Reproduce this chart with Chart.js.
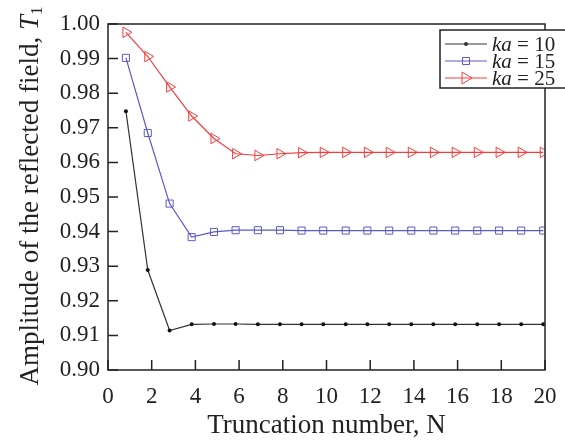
<!DOCTYPE html>
<html>
<head>
<meta charset="utf-8">
<script src="https://cdn.jsdelivr.net/npm/chart.js@4.4.1/dist/chart.umd.min.js"></script>
<style>
  html, body { margin: 0; padding: 0; background: #fff; }
  #wrap { width: 565px; height: 445px; }
</style>
</head>
<body>
<div id="wrap"><canvas id="refChart" width="565" height="445"></canvas></div>
<script>
// truncation number positions
var nValues = [0.82, 1.82, 2.82, 3.83, 4.85, 5.84, 6.86, 7.87, 8.86, 9.85,
               10.88, 11.87, 12.87, 13.88, 14.89, 15.89, 16.9, 17.9, 18.91, 19.92];
var ka10 = [0.9748, 0.9289, 0.9114, 0.9132, 0.9133, 0.9133, 0.9132, 0.9132, 0.9132, 0.9132,
            0.9132, 0.9132, 0.9132, 0.9132, 0.9132, 0.9132, 0.9132, 0.9132, 0.9132, 0.9132];
var ka15 = [0.9902, 0.9685, 0.9481, 0.9384, 0.9399, 0.9404, 0.9404, 0.9404, 0.9403, 0.9403,
            0.9403, 0.9403, 0.9403, 0.9403, 0.9403, 0.9403, 0.9403, 0.9403, 0.9403, 0.9403];
var ka25 = [0.9976, 0.9906, 0.9818, 0.9734, 0.9669, 0.9625, 0.9620, 0.9625, 0.9628, 0.9629,
            0.9629, 0.9629, 0.9629, 0.9629, 0.9629, 0.9629, 0.9629, 0.9629, 0.9629, 0.9629];
var seriesLabels = ['10', '15', '25'];

var serif = '"Liberation Serif", "DejaVu Serif", serif';

function pts(arr) {
    return arr.map(function (v, i) { return { x: nValues[i], y: v }; });
}

// inward ticks + frame
var framePlugin = {
    id: 'frame',
    afterDraw: function (chart) {
        var ctx = chart.ctx, a = chart.chartArea;
        var xs = chart.scales.x, ys = chart.scales.y;
        ctx.save();
        ctx.strokeStyle = '#222';
        ctx.lineWidth = 1.5;
        ctx.strokeRect(a.left, a.top, a.right - a.left, a.bottom - a.top);
        ctx.beginPath();
        ys.ticks.forEach(function (t) {
            var y = ys.getPixelForValue(t.value);
            ctx.moveTo(a.left, y);
            ctx.lineTo(a.left + 10, y);
        });
        xs.ticks.forEach(function (t) {
            var x = xs.getPixelForValue(t.value);
            ctx.moveTo(x, a.bottom);
            ctx.lineTo(x, a.bottom - 10);
        });
        ctx.stroke();
        ctx.restore();
    }
};

// y title with italic T and subscript 1
var yTitlePlugin = {
    id: 'yTitle',
    afterDraw: function (chart) {
        var ctx = chart.ctx;
        var main = 'Amplitude of the reflected field, ';
        ctx.save();
        ctx.translate(38, 196);
        ctx.rotate(-Math.PI / 2);
        ctx.fillStyle = '#222';
        ctx.textBaseline = 'alphabetic';
        ctx.font = '27px ' + serif;
        var w1 = ctx.measureText(main).width;
        ctx.font = 'italic 27px ' + serif;
        var w2 = ctx.measureText('T').width;
        ctx.font = '17px ' + serif;
        var w3 = ctx.measureText('1').width;
        var x0 = -(w1 + w2 + w3) / 2;
        ctx.font = '27px ' + serif;
        ctx.fillText(main, x0, 0);
        ctx.font = 'italic 27px ' + serif;
        ctx.fillText('T', x0 + w1, 0);
        ctx.font = '17px ' + serif;
        ctx.fillText('1', x0 + w1 + w2, 4);
        ctx.restore();
    }
};

function marker(ctx, style, x, y, color) {
    ctx.save();
    ctx.strokeStyle = color;
    ctx.fillStyle = color;
    ctx.lineWidth = 1;
    ctx.beginPath();
    if (style === 'circle') {
        ctx.arc(x, y, 2, 0, Math.PI * 2);
        ctx.fill();
    } else if (style === 'rect') {
        ctx.rect(x - 3.5, y - 3.5, 7, 7);
        ctx.stroke();
    } else {
        ctx.moveTo(x + 6, y);
        ctx.lineTo(x - 4, y - 6);
        ctx.lineTo(x - 4, y + 6);
        ctx.closePath();
        ctx.stroke();
    }
    ctx.restore();
}

var legendPlugin = {
    id: 'boxLegend',
    afterDraw: function (chart) {
        var ctx = chart.ctx;
        ctx.save();
        ctx.fillStyle = '#fff';
        ctx.fillRect(440, 30, 130, 58);
        ctx.strokeStyle = '#222';
        ctx.lineWidth = 1.5;
        ctx.strokeRect(440, 30, 130, 58);
        var rows = [44, 61, 78];
        chart.data.datasets.forEach(function (ds, i) {
            var y = rows[i];
            ctx.strokeStyle = ds.borderColor;
            ctx.lineWidth = 1;
            ctx.beginPath();
            ctx.moveTo(445, y);
            ctx.lineTo(487, y);
            ctx.stroke();
            marker(ctx, ds.legendMarker, 466, y, ds.borderColor);
            ctx.fillStyle = '#222';
            ctx.textBaseline = 'middle';
            ctx.font = 'italic 21px ' + serif;
            ctx.fillText('ka', 492, y + 1);
            var w = ctx.measureText('ka').width;
            ctx.font = '21px ' + serif;
            ctx.fillText(' = ' + seriesLabels[i], 492 + w, y + 1);
        });
        ctx.restore();
    }
};

var chart = new Chart(document.getElementById('refChart'), {
    type: 'line',
    data: {
        datasets: [{
            label: 'ka = 10',
            data: pts(ka10),
            borderColor: '#333333',
            backgroundColor: '#111111',
            borderWidth: 1.2,
            pointStyle: 'circle',
            pointRadius: 2,
            pointBorderWidth: 0,
            pointBackgroundColor: '#111111',
            legendMarker: 'circle'
        }, {
            label: 'ka = 15',
            data: pts(ka15),
            borderColor: '#5a5ac8',
            borderWidth: 1.2,
            pointStyle: 'rect',
            pointRadius: 5,
            pointBorderWidth: 1,
            pointBackgroundColor: 'rgba(0,0,0,0)',
            legendMarker: 'rect'
        }, {
            label: 'ka = 25',
            data: pts(ka25),
            borderColor: '#f53c3c',
            borderWidth: 1.2,
            pointStyle: 'triangle',
            pointRotation: 90,
            pointRadius: 6,
            pointBorderWidth: 1,
            pointBackgroundColor: 'rgba(0,0,0,0)',
            legendMarker: 'triangle'
        }]
    },
    options: {
        responsive: false,
        animation: false,
        layout: { padding: { top: 24, right: 20, left: 0, bottom: 0 } },
        plugins: {
            legend: { display: false },
            tooltip: { enabled: false }
        },
        scales: {
            x: {
                type: 'linear',
                min: 0,
                max: 20,
                grid: { display: false, drawTicks: false },
                border: { display: false },
                ticks: {
                    stepSize: 2,
                    padding: 13,
                    color: '#222',
                    font: { family: serif, size: 23 }
                },
                title: {
                    display: true,
                    text: 'Truncation number, N',
                    color: '#222',
                    padding: { top: 0, bottom: 3 },
                    font: { family: serif, size: 27 }
                },
                afterFit: function (s) {
                    s.height = 75;
                    s.paddingLeft = 0;
                    s.paddingRight = 0;
                }
            },
            y: {
                min: 0.90,
                max: 1.00,
                grid: { display: false, drawTicks: false },
                border: { display: false },
                ticks: {
                    stepSize: 0.01,
                    padding: 8,
                    color: '#222',
                    font: { family: serif, size: 23 },
                    callback: function (v) { return v.toFixed(2); }
                },
                afterFit: function (s) {
                    s.width = 108;
                    s.paddingTop = 0;
                    s.paddingBottom = 0;
                }
            }
        }
    },
    plugins: [framePlugin, yTitlePlugin, legendPlugin]
});
</script>
</body>
</html>
